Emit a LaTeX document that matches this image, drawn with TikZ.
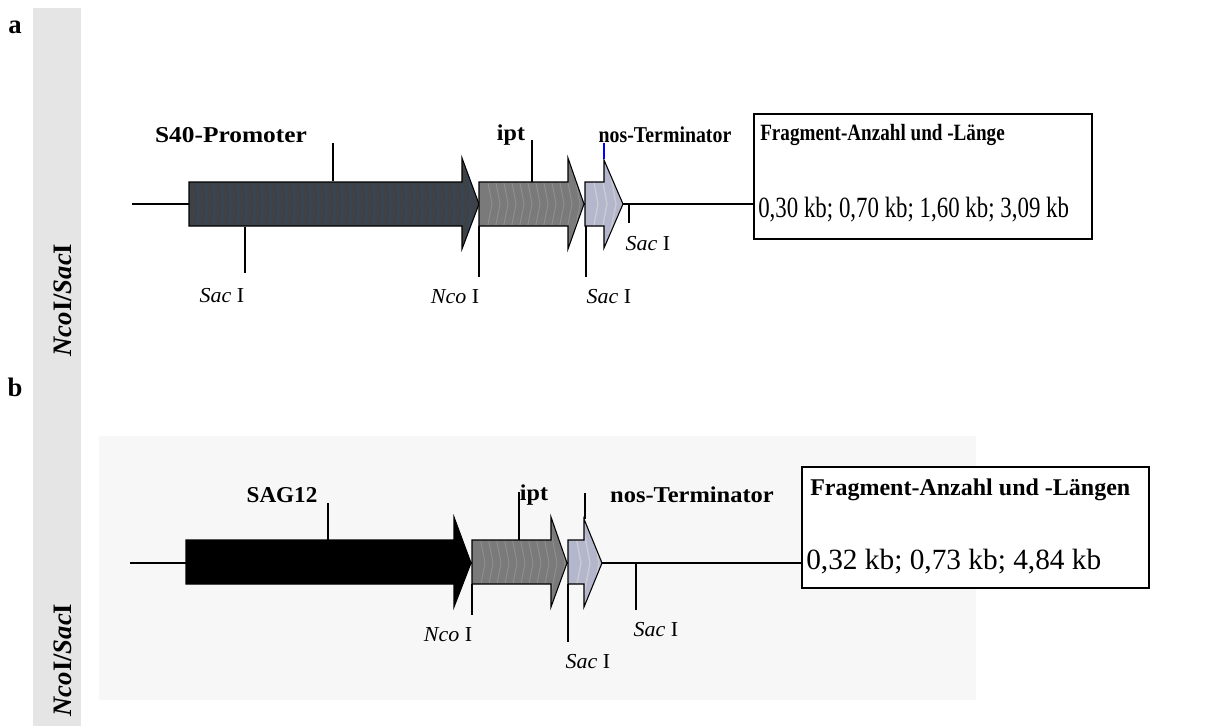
\documentclass[tikz,border=0pt]{standalone}
\usepackage{fontspec}
\setmainfont{Liberation Serif}
\definecolor{stripgray}{HTML}{E5E5E5}
\definecolor{panelbg}{HTML}{F7F7F7}
\definecolor{promfill}{HTML}{3E4146}
\definecolor{promstripe}{HTML}{2F4A6A}
\definecolor{iptfill}{HTML}{7A7A7A}
\definecolor{iptstripe}{HTML}{8F8F8F}
\definecolor{nosfill}{HTML}{B4B7CB}
\definecolor{nosstripe}{HTML}{CACBD3}
\newcommand\sx[2]{\scalebox{#1}[1]{#2}}
\tikzset{
  dna/.style={line width=0.9pt, black},
  ticklin/.style={line width=0.9pt, black},
  gene/.style={draw=black, line width=0.8pt},
  genelbl/.style={inner sep=0pt, font=\fontsize{17}{20}\selectfont\bfseries},
  sitelbl/.style={inner sep=0pt, font=\fontsize{16}{19}\selectfont},
  panellbl/.style={inner sep=0pt, font=\fontsize{20}{24}\selectfont\bfseries},
  enzlbl/.style={inner sep=0pt, font=\fontsize{20}{24}\selectfont\bfseries, rotate=90},
  fragbox/.style={draw=black, line width=1.4pt, fill=white, inner sep=0pt, anchor=north west},
  fragtitle/.style={inner sep=0pt, anchor=west, font=\fontsize{18}{22}\selectfont\bfseries},
  fragnum/.style={inner sep=0pt, anchor=west, font=\fontsize{22}{26}\selectfont},
}
\begin{document}
\begin{tikzpicture}[x=0.75pt,y=-0.75pt]
\useasboundingbox (0,0) rectangle (1230,726);
\fill[white] (0,0) rectangle (1230,726);
\fill[stripgray] (33,8) rectangle (81,726);
\fill[panelbg] (99,436) rectangle (976,700);

\node[panellbl] (la) at (15,27) {a};
\node[panellbl] (lb) at (15,387) {b};
\node[enzlbl] (ea) at (63,300) {\textit{Nco}I/\textit{Sac}I};
\node[enzlbl] (eb) at (63,660) {\textit{Nco}I/\textit{Sac}I};

% ================= panel a =================
\node[fragbox, minimum width=338*0.75pt, minimum height=125*0.75pt] (boxa) at (753,113) {};
\node[fragtitle] (ta) at (760,135) {\sx{0.82}{\fontsize{17.5}{21}\selectfont Fragment-Anzahl und -Länge}};
\node[fragnum] (na) at (758,210) {\sx{0.78}{0,30 kb; 0,70 kb; 1,60 kb; 3,09 kb}};

\coordinate (a0) at (132,204);
\draw[dna] (a0) -- (a0 -| boxa.west);

% S40 promoter
\begin{scope}
  \path[clip] (189,182) -- (462,182) -- (462,158) -- (479,204) -- (462,249) -- (462,226) -- (189,226) -- cycle;
  \fill[promfill] (180,150) rectangle (490,255);
  \foreach \xx in {192,200,...,476}
    \draw[promstripe, line width=0.7pt] (\xx,150) .. controls (\xx+9,204) .. (\xx,255);
\end{scope}
\draw[gene] (189,182) -- (462,182) -- (462,158) -- (479,204) -- (462,249) -- (462,226) -- (189,226) -- cycle;

% ipt
\begin{scope}
  \path[clip] (479,182) -- (568,182) -- (568,158) -- (584,204) -- (568,249) -- (568,226) -- (479,226) -- cycle;
  \fill[iptfill] (470,150) rectangle (590,255);
  \foreach \xx in {482,490,...,584}
    \draw[iptstripe, line width=0.7pt] (\xx,150) -- (\xx+10,204) -- (\xx,255);
\end{scope}
\draw[gene] (479,182) -- (568,182) -- (568,158) -- (584,204) -- (568,249) -- (568,226) -- (479,226) -- cycle;

% nos
\begin{scope}
  \path[clip] (585,182) -- (604,182) -- (604,160) -- (623,204) -- (604,248) -- (604,226) -- (585,226) -- cycle;
  \fill[nosfill] (580,150) rectangle (630,255);
  \foreach \xx in {588,597,...,620}
    \draw[nosstripe, line width=1pt] (\xx,150) -- (\xx+10,204) -- (\xx,255);
\end{scope}
\draw[gene] (585,182) -- (604,182) -- (604,160) -- (623,204) -- (604,248) -- (604,226) -- (585,226) -- cycle;

% gene labels a
\node[genelbl] (gS40) at (231,135) {\sx{1.12}{S40-Promoter}};
\node[genelbl] (giptA) at (511,135) {\sx{1.06}{ipt}};
\node[genelbl] (gnosA) at (665,135) {\sx{0.875}{nos-Terminator}};
\coordinate (tS40a) at (333,143); \coordinate (tS40b) at (333,181);
\draw[ticklin] (tS40a) -- (tS40b);
\coordinate (tiptAa) at (532,140); \coordinate (tiptAb) at (532,182);
\draw[ticklin] (tiptAa) -- (tiptAb);
\coordinate (tnosAa) at (604,143); \coordinate (tnosAb) at (604,159);
\draw[line width=0.9pt, blue] (tnosAa) -- (tnosAb);

% site labels a
\node[sitelbl] (sA1) at (222,296) {\sx{1.03}{\textit{Sac} I}};
\node[sitelbl] (nA1) at (455,297) {\sx{1.03}{\textit{Nco} I}};
\node[sitelbl] (sA2) at (609,297) {\sx{1.03}{\textit{Sac} I}};
\node[sitelbl] (sA3) at (648,244) {\sx{1.03}{\textit{Sac} I}};
\coordinate (cA1a) at (245,227); \coordinate (cA1b) at (245,273);
\draw[ticklin] (cA1a) -- (cA1b);
\coordinate (cA2a) at (479,226); \coordinate (cA2b) at (479,277);
\draw[ticklin] (cA2a) -- (cA2b);
\coordinate (cA3a) at (586,226); \coordinate (cA3b) at (586,277);
\draw[ticklin] (cA3a) -- (cA3b);
\coordinate (cA4a) at (629,204); \coordinate (cA4b) at (629,223);
\draw[ticklin] (cA4a) -- (cA4b);

% ================= panel b =================
\node[fragbox, minimum width=347*0.75pt, minimum height=121*0.75pt] (boxb) at (801,466) {};
\node[fragtitle] (tb) at (810,490) {Fragment-Anzahl und -Längen};
\node[fragnum] (nb) at (806,562) {0,32 kb; 0,73 kb; 4,84 kb};

\coordinate (b0) at (130,563);
\draw[dna] (b0) -- (b0 -| boxb.west);

% SAG12
\draw[gene, fill=black] (186,540) -- (454,540) -- (454,517) -- (471,563) -- (454,607) -- (454,584) -- (186,584) -- cycle;

% ipt
\begin{scope}
  \path[clip] (472,540) -- (551,540) -- (551,517) -- (567,563) -- (551,607) -- (551,584) -- (472,584) -- cycle;
  \fill[iptfill] (465,510) rectangle (575,615);
  \foreach \xx in {475,483,...,567}
    \draw[iptstripe, line width=0.7pt] (\xx,510) -- (\xx+10,563) -- (\xx,615);
\end{scope}
\draw[gene] (472,540) -- (551,540) -- (551,517) -- (567,563) -- (551,607) -- (551,584) -- (472,584) -- cycle;

% nos
\begin{scope}
  \path[clip] (568,540) -- (584,540) -- (584,519) -- (602,563) -- (584,607) -- (584,584) -- (568,584) -- cycle;
  \fill[nosfill] (560,510) rectangle (610,615);
  \foreach \xx in {571,580,...,600}
    \draw[nosstripe, line width=1pt] (\xx,510) -- (\xx+10,563) -- (\xx,615);
\end{scope}
\draw[gene] (568,540) -- (584,540) -- (584,519) -- (602,563) -- (584,607) -- (584,584) -- (568,584) -- cycle;

% gene labels b
\node[genelbl] (gSAG) at (282,495) {\sx{1.02}{SAG12}};
\node[genelbl] (giptB) at (534,495) {\sx{1.06}{ipt}};
\node[genelbl] (gnosB) at (692,495) {\sx{1.08}{nos-Terminator}};
\coordinate (tSAGa) at (328,503); \coordinate (tSAGb) at (328,540);
\draw[ticklin] (tSAGa) -- (tSAGb);
\coordinate (tiptBa) at (519,492); \coordinate (tiptBb) at (519,540);
\draw[ticklin] (tiptBa) -- (tiptBb);
\coordinate (tnosBa) at (585,493); \coordinate (tnosBb) at (585,519);
\draw[ticklin] (tnosBa) -- (tnosBb);

% site labels b
\node[sitelbl] (nB1) at (448,635) {\sx{1.03}{\textit{Nco} I}};
\node[sitelbl] (sB2) at (588,662) {\sx{1.03}{\textit{Sac} I}};
\node[sitelbl] (sB3) at (656,630) {\sx{1.03}{\textit{Sac} I}};
\coordinate (cB2a) at (472,584); \coordinate (cB2b) at (472,615);
\draw[ticklin] (cB2a) -- (cB2b);
\coordinate (cB3a) at (568,584); \coordinate (cB3b) at (568,642);
\draw[ticklin] (cB3a) -- (cB3b);
\coordinate (cB4a) at (636,563); \coordinate (cB4b) at (636,610);
\draw[ticklin] (cB4a) -- (cB4b);
\end{tikzpicture}
\end{document}
